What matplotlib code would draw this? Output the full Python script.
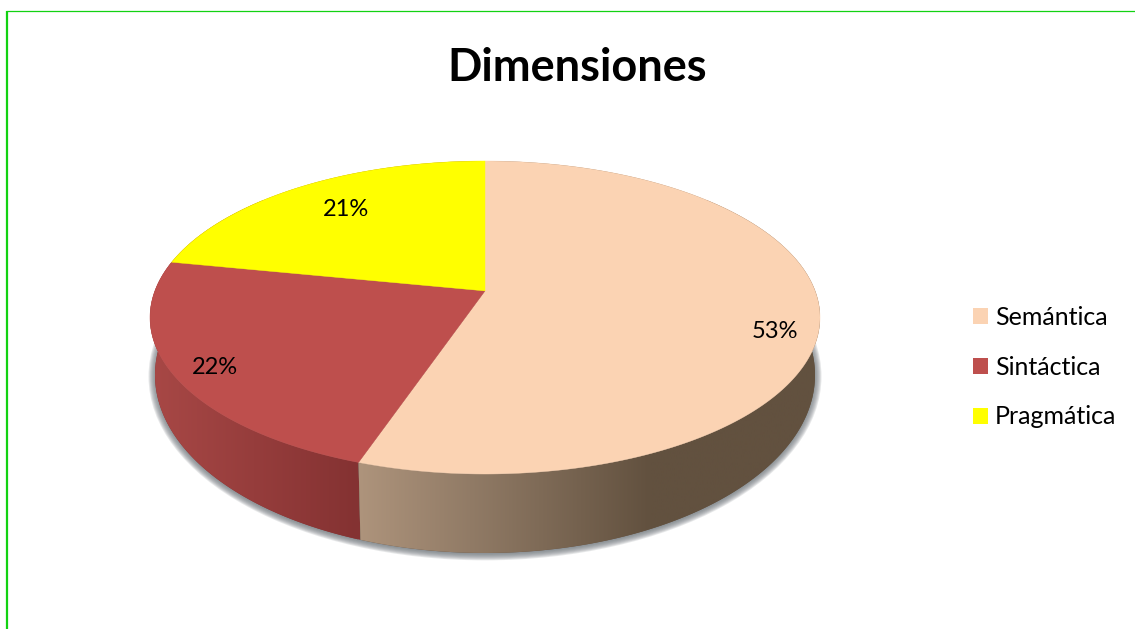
import numpy as np
import matplotlib
matplotlib.use("Agg")
import matplotlib.pyplot as plt
from matplotlib.patches import Polygon, Ellipse, Patch
from matplotlib.colors import LinearSegmentedColormap

title = "Dimensiones"
categories = ["Semántica", "Sintáctica", "Pragmática"]
values = [53, 22, 21]
top_colors = ["#FBD3B3", "#BE4F4D", "#FFFF00"]
wall_stops = [
    [(358, "#AE947C"), (470, "#917B66"), (650, "#62513F"), (820, "#62513F")],
    [(150, "#A84846"), (358, "#843232")],
    [(150, "#A84846"), (358, "#843232")],
]
label_pos = [(775, 332), (215, 367.5), (346, 209.5)]

FONT = "Lato"
W, H = 1135, 629
fig = plt.figure(figsize=(W / 100, H / 100), dpi=100)
ax = fig.add_axes([0, 0, 1, 1])
ax.set_xlim(0, W)
ax.set_ylim(H, 0)
ax.axis("off")

# frame
ax.plot([7, 7], [H, 11], color="#12D212", lw=1.6, solid_capstyle="butt")
ax.plot([6, W], [11, 11], color="#12D212", lw=0.9, solid_capstyle="butt")

# geometry of perspective disk
CX, TOP_CY, TOP_A, TOP_B = 485, 317.5, 335, 156.5
BOT_CY, BOT_A, BOT_B = 375, 330, 178
K = 0.17


def disk(theta):
    """theta clockwise from the top, radians"""
    return np.sin(theta), np.cos(theta)


def persp(x, y):
    d = 1 + K * y
    return x * np.sqrt(1 - K ** 2) / d, (y + K) / d


def top_xy(x, y):
    u, v = persp(x, y)
    return CX + TOP_A * u, TOP_CY - TOP_B * v


def bot_xy(x, y):
    u, v = persp(x, y)
    return CX + BOT_A * u, BOT_CY - BOT_B * v


# soft shadow
for i in range(8):
    grow = 6.5 - i
    ax.add_patch(Ellipse((CX, BOT_CY + 1.5), 2 * (BOT_A + grow), 2 * (BOT_B + grow * 0.9),
                         fc="#70767C", ec="none", alpha=0.17, zorder=1))

fractions = np.array(values, float) / sum(values)
edges = np.concatenate([[0], np.cumsum(fractions)]) * 2 * np.pi

# walls (drawn back to front)
for i in [2, 1, 0]:
    t = np.linspace(edges[i], edges[i + 1], 200)
    x, y = disk(t)
    tx, ty = top_xy(x, y)
    bx, by = bot_xy(x, y)
    verts = np.column_stack([np.r_[tx, bx[::-1]], np.r_[ty, by[::-1]]])
    z = 2 + (2 - i) * 0.1
    ax.add_patch(Polygon(verts, closed=True, fc=wall_stops[i][-1][1], ec="none", zorder=z - 0.05))
    poly = Polygon(verts, closed=True, fc="none", ec="none", transform=ax.transData)
    ax.add_patch(poly)
    xs = [s[0] for s in wall_stops[i]]
    span = xs[-1] - xs[0]
    cmap = LinearSegmentedColormap.from_list(
        "w%d" % i, [((s[0] - xs[0]) / span, s[1]) for s in wall_stops[i]])
    grad = np.linspace(0, 1, 256)[None, :]
    im = ax.imshow(grad, cmap=cmap, extent=[xs[0], xs[-1], 600, 200],
                   aspect="auto", zorder=z, interpolation="bilinear")
    im.set_clip_path(poly)
ax.set_xlim(0, W)
ax.set_ylim(H, 0)

# top faces
apex = top_xy(0.0, 0.0)
for i in range(3):
    t = np.linspace(edges[i], edges[i + 1], 300)
    x, y = disk(t)
    tx, ty = top_xy(x, y)
    ax.add_patch(Polygon(np.column_stack([np.r_[apex[0], tx], np.r_[apex[1], ty]]),
                         closed=True, fc=top_colors[i], ec=top_colors[i], lw=0.3, zorder=3))

# labels
for v, (lx, ly) in zip(values, label_pos):
    ax.text(lx, ly, f"{v}%", ha="center", va="center", fontsize=17, family=FONT,
            color="black", zorder=4)

ax.text(577, 68, title, ha="center", va="center", fontsize=32.5, fontweight="bold",
        family=FONT, color="black")

# legend
handles = [Patch(fc=c, ec="none") for c in top_colors]
fs = 18
px = fs * 100 / 72
leg = ax.legend(handles, categories, loc="upper left", bbox_to_anchor=(973, 306),
                bbox_transform=ax.transData, frameon=False, borderpad=0, borderaxespad=0,
                handlelength=15 / px, handleheight=15 / px,
                handletextpad=7 / px, labelspacing=1.07,
                prop={"family": FONT, "size": fs})
fig.savefig("out.png", dpi=100, facecolor="white")
